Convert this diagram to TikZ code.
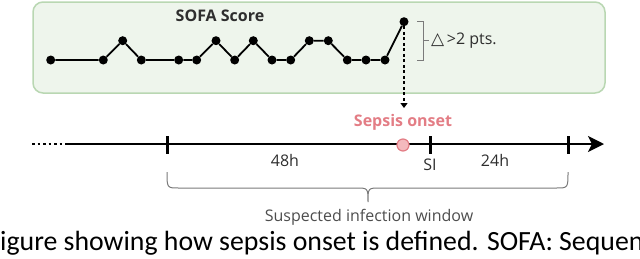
\documentclass[tikz,border=0pt]{standalone}
\usepackage{fontspec}
\setmainfont{Open Sans}
\newfontfamily\capfont{Carlito}
\newfontfamily\symfont{DejaVu Sans}
\usetikzlibrary{arrows.meta}
\definecolor{boxfill}{HTML}{EEF5EC}
\definecolor{boxline}{HTML}{B9D7B2}
\definecolor{sepsis}{HTML}{E37D85}
\definecolor{sepsisfill}{HTML}{F4B9BD}
\definecolor{bracegray}{HTML}{7A7A7A}
\definecolor{txt}{HTML}{2E2E2E}
\tikzset{
  dot/.style={circle,fill=black,inner sep=0pt,minimum size=9pt},
  lbl/.style={inner sep=0pt,text=txt,font=\fontsize{16}{18}\selectfont},
  boldlbl/.style={inner sep=0pt,font=\bfseries\fontsize{16}{18}\selectfont},
  tick/.style={line width=3pt},
}
\begin{document}
\begin{tikzpicture}[x=1pt,y=-1pt]
\useasboundingbox (0,0) rectangle (640,258);
\clip (0,0) rectangle (640,258);
% SOFA box
\draw[boxline,fill=boxfill,line width=1.5pt,rounded corners=10pt] (33,2) rectangle (605,93);
\node[boldlbl,text=txt] (title) at (220,16) {SOFA Score};
% SOFA points
\foreach \n/\x/\y in {p1/50.7/60, p2/103.3/60, p3/122.7/40.7, p4/141.3/60, p5/178.7/60, p6/196.7/60, p7/216/40.7, p8/234.7/60, p9/253.3/40.7, p10/272/60, p11/290.7/60, p12/309.3/40.7, p13/328.3/40.7, p14/347.3/60, p15/366/60, p16/385/60, p17/404/21.7}
  \node[dot] (\n) at (\x,\y) {};
\draw[line width=1.8pt] (p1)--(p2)--(p3)--(p4)--(p5)--(p6)--(p7)--(p8)--(p9)--(p10)--(p11)--(p12)--(p13)--(p14)--(p15)--(p16)--(p17);
% delta bracket
\coordinate (b1) at (417,21);
\coordinate (b2) at (423,21);
\coordinate (b3) at (423,60);
\coordinate (b4) at (417,60);
\coordinate (bm) at (423,40.5);
\coordinate (bt) at (429,40.5);
\draw[bracegray,line width=1pt] (b1)--(b2)--(b3)--(b4) (bm)--(bt);
\node[lbl,anchor=west] (delta) at (431,40.5) {{\symfont\fontsize{17}{18}\selectfont △}\,>2 pts.};
% timeline
\coordinate (tl0) at (32,144);
\coordinate (tl1) at (68,144);
\coordinate (tl2) at (604,144);
\draw[line width=2pt,dash pattern=on 2.5pt off 3pt] (tl0)--(tl1);
\draw[line width=2pt,-{Stealth[length=16pt,width=16pt,inset=4pt]}] (tl1)--(tl2);
\coordinate (t1) at (167,136);
\coordinate (t1b) at (167,154);
\coordinate (t2) at (430,136);
\coordinate (t2b) at (430,154);
\coordinate (t3) at (568,136);
\coordinate (t3b) at (568,154);
\draw[tick] (t1)--(t1b) (t2)--(t2b) (t3)--(t3b);
% sepsis onset
\node[circle,draw=sepsis,fill=sepsisfill,line width=1.2pt,inner sep=0pt,minimum size=12pt] (onset) at (403,145) {};
\node[boldlbl,text=sepsis] (onsetlbl) at (403,122) {Sepsis onset};
\coordinate (dtip) at (404,108);
\draw[line width=1.3pt,dash pattern=on 3pt off 2.5pt,-{Triangle[length=5pt,width=7pt]}] (p17.south) -- (dtip);
% labels
\node[lbl] (h48) at (285,160) {48h};
\node[lbl] (si) at (430,165) {SI};
\node[lbl] (h24) at (495,160) {24h};
% brace
\coordinate (br0) at (167,172);
\coordinate (br1) at (179,188);
\coordinate (br2) at (356,188);
\coordinate (brm) at (368,202);
\coordinate (br3) at (380,188);
\coordinate (br4) at (556,188);
\coordinate (br5) at (568,172);
\draw[bracegray,line width=1pt] (br0) .. controls (167,188) .. (br1) -- (br2) .. controls (368,188) .. (brm) .. controls (368,188) .. (br3) -- (br4) .. controls (568,188) .. (br5);
\node[lbl,text=txt!85] (win) at (369,217) {Suspected infection window};
% caption (cropped)
\node[inner sep=0pt,anchor=base west,font=\capfont\fontsize{27.8}{30}\selectfont] (cap) at (0,250) {igure showing how sepsis onset is defined. SOFA: Sequen};
\end{tikzpicture}
\end{document}
